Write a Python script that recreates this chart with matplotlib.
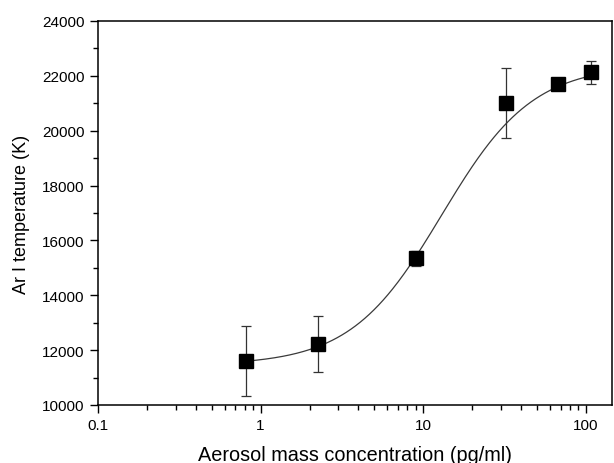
import numpy as np
import matplotlib
matplotlib.use("Agg")
import matplotlib.pyplot as plt
from matplotlib.ticker import FixedLocator, LogLocator, NullFormatter

# Data
conc = [0.81, 2.25, 9.0, 32.4, 67.6, 108.0]
temp = [11600, 12210, 15370, 21010, 21690, 22140]
err_hi = [12880, 13250, 15630, 22280, 21800, 22540]
err_lo = [10330, 11190, 15060, 19730, 21580, 21720]

# Logistic fit parameters: y = A2 + (A1 - A2) / (1 + (x/x0)^p)
A1, A2, x0, p = 11450, 22400, 13.0, 1.55

yticks = [10000, 12000, 14000, 16000, 18000, 20000, 22000, 24000]
xticks = [0.1, 1, 10, 100]
xticklabels = ["0.1", "1", "10", "100"]

plt.rcParams['font.family'] = ['Liberation Sans', 'DejaVu Sans']

fig = plt.figure(figsize=(6.14, 4.64), dpi=100)
ax = fig.add_axes([0.1596, 0.125, 0.9967 - 0.1596, 0.9526 - 0.125])

xf = np.logspace(np.log10(conc[0]), np.log10(conc[-1]), 300)
yf = A2 + (A1 - A2) / (1 + (xf / x0) ** p)
ax.plot(xf, yf, color='#3a3a3a', lw=0.9, zorder=2)

t = np.array(temp)
yerr = np.vstack([t - np.array(err_lo), np.array(err_hi) - t])
ax.errorbar(conc, temp, yerr=yerr, fmt='none', ecolor='#333333', elinewidth=0.9,
            capsize=3.3, capthick=0.9, zorder=3)
ax.plot(conc, temp, 's', color='black', markersize=9.5, zorder=4)

ax.set_xscale('log')
ax.set_xlim(0.1, 145)
ax.set_ylim(10000, 24000)
ax.set_xticks(xticks)
ax.set_xticklabels(xticklabels)
ax.xaxis.set_minor_locator(LogLocator(base=10, subs=np.arange(2, 10)))
ax.xaxis.set_minor_formatter(NullFormatter())
ax.set_yticks(yticks)
ax.yaxis.set_minor_locator(FixedLocator(np.arange(11000, 24000, 2000)))

ax.tick_params(which='major', direction='out', length=6, width=1, labelsize=11,
               top=False, right=False)
ax.tick_params(which='minor', direction='out', length=3.5, width=1,
               top=False, right=False)
for s in ax.spines.values():
    s.set_linewidth(1.1)

ax.set_xlabel('Aerosol mass concentration (pg/ml)', fontsize=14.3, labelpad=9)
ax.set_ylabel('Ar I temperature (K)', fontsize=13, labelpad=9)

fig.savefig('out.png', dpi=100)
